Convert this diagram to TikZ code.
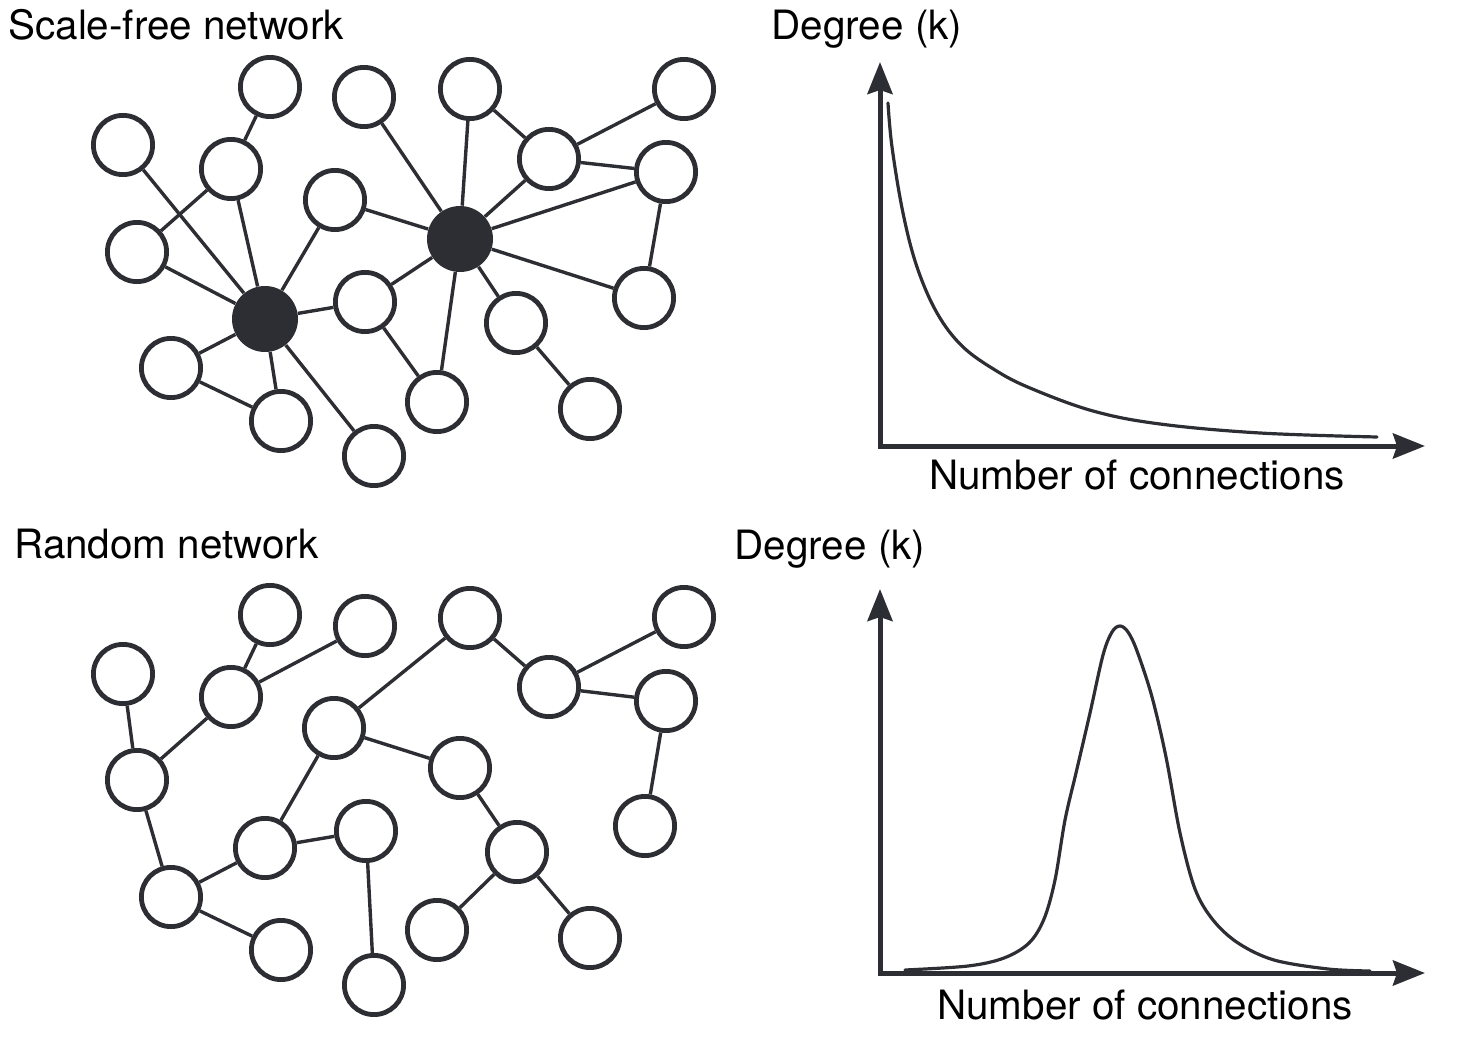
\documentclass[tikz,border=0pt]{standalone}
\usepackage{fontspec}
\setmainfont{TeX Gyre Heros}
\usetikzlibrary{arrows.meta}
\definecolor{ink}{RGB}{45,46,51}
\begin{document}
\begin{tikzpicture}[x=0.5pt,y=-0.5pt,
  nd/.style={circle,draw=ink,line width=2.4pt,fill=white,minimum size=29.6pt,inner sep=0pt},
  hub/.style={circle,fill=ink,minimum size=33pt,inner sep=0pt},
  edge/.style={draw=ink,line width=1.7pt},
  axisline/.style={draw=ink,line width=2.5pt,{Stealth[length=16pt,width=12.5pt,inset=2pt]}-{Stealth[length=16pt,width=12.5pt,inset=2pt]}},
  curveline/.style={draw=ink,line width=1.6pt,line cap=round},
  lbl/.style={font=\fontsize{20.2}{24}\selectfont,text=black,inner sep=0pt}
]
\useasboundingbox (0,0) rectangle (1466,1053);

% ---------- Scale-free network ----------
\node[lbl,anchor=base west] (t1) at (8,40) {Scale-free network};
\node[nd] (s1) at (270,87) {};
\node[nd] (s2) at (123,145) {};
\node[nd] (s3) at (231,169) {};
\node[nd] (s4) at (137,252) {};
\node[nd] (s5) at (364,97) {};
\node[nd] (s6) at (335,200) {};
\node[hub] (sA) at (265,319) {};
\node[hub] (sB) at (460,239) {};
\node[nd] (s9) at (470,89) {};
\node[nd] (s10) at (549,159) {};
\node[nd] (s11) at (684,89) {};
\node[nd] (s12) at (666,172) {};
\node[nd] (s13) at (644,298) {};
\node[nd] (s14) at (365,302) {};
\node[nd] (s15) at (516,323) {};
\node[nd] (s16) at (171,368) {};
\node[nd] (s17) at (281,421) {};
\node[nd] (s18) at (374,456) {};
\node[nd] (s19) at (437,402) {};
\node[nd] (s20) at (590,409) {};

% ---------- Random network ----------
\node[lbl,anchor=base west] (t2) at (14,558) {Random network};
\node[nd] (r1) at (270,615) {};
\node[nd] (r2) at (123,674) {};
\node[nd] (r3) at (231,697) {};
\node[nd] (r4) at (137,780) {};
\node[nd] (r5) at (365,626) {};
\node[nd] (r6) at (334,728) {};
\node[nd] (r7) at (265,848) {};
\node[nd] (r8) at (460,768) {};
\node[nd] (r9) at (470,618) {};
\node[nd] (r10) at (549,687) {};
\node[nd] (r11) at (684,617) {};
\node[nd] (r12) at (666,701) {};
\node[nd] (r13) at (645,826) {};
\node[nd] (r14) at (366,831) {};
\node[nd] (r15) at (517,852) {};
\node[nd] (r16) at (171,897) {};
\node[nd] (r17) at (281,950) {};
\node[nd] (r18) at (374,985) {};
\node[nd] (r19) at (437,930) {};
\node[nd] (r20) at (590,938) {};

% edges (they stop at node borders)
\foreach \a/\b in {s1/s3,s2/sA,s3/sA,s3/s4,s4/sA,s6/sA,s14/sA,s16/sA,s17/sA,s18/sA,s16/s17,
  s5/sB,s6/sB,s9/sB,s10/sB,s12/sB,s13/sB,s14/sB,s19/sB,s15/sB,s14/s19,s15/s20,
  s9/s10,s10/s11,s10/s12,s12/s13}
  \draw[edge] (\a) -- (\b);
\foreach \a/\b in {r1/r3,r3/r5,r3/r4,r2/r4,r4/r16,r16/r7,r16/r17,r7/r14,r7/r6,r6/r9,
  r6/r8,r9/r10,r10/r11,r10/r12,r12/r13,r8/r15,r15/r19,r15/r20,r14/r18}
  \draw[edge] (\a) -- (\b);

% ---------- Top chart ----------
\node[lbl,anchor=base] (d1) at (867,40) {Degree (k)};
\node[lbl,anchor=base] (n1) at (1137,489) {Number of connections};
\coordinate (o1) at (880,446);
\coordinate (y1) at (880,62);
\coordinate (x1) at (1425,446);
\draw[axisline] (y1) -- (o1) -- (x1);
\draw[curveline] plot[smooth,tension=0.6] coordinates {
  (888,103) (892,147) (903,213) (917,267) (937,313) (962,346) (995,370)
  (1030,388) (1093,411) (1160,424) (1260,433) (1377,437)};

% ---------- Bottom chart ----------
\node[lbl,anchor=base] (d2) at (830,559) {Degree (k)};
\node[lbl,anchor=base] (n2) at (1145,1019) {Number of connections};
\coordinate (o2) at (880,973);
\coordinate (y2) at (880,589);
\coordinate (x2) at (1425,973);
\draw[axisline] (y2) -- (o2) -- (x2);
\draw[curveline] plot[smooth,tension=0.55] coordinates {
  (905,970) (968,966) (1004,958) (1029,943) (1044,919) (1055,880) (1065,820)
  (1076,773) (1090,713) (1103,655) (1112,632) (1120,626) (1128,632) (1137,651)
  (1152,697) (1166,757) (1180,833) (1195,889) (1213,920) (1238,943) (1274,960)
  (1328,969) (1370,971)};
\end{tikzpicture}
\end{document}
